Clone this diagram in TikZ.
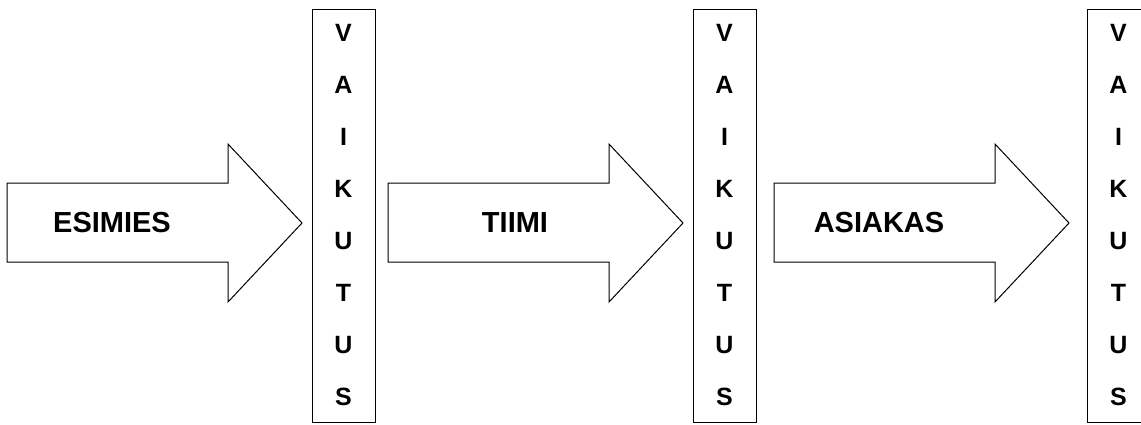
\documentclass[tikz,border=0pt]{standalone}
\usepackage{fontspec}
\setmainfont{Liberation Sans}
\usetikzlibrary{positioning}
\tikzset{
  flow/.style={draw=black,line width=1pt,fill=white,line join=miter},
  vbox/.style={draw=black,line width=1pt,minimum width=63pt,minimum height=413pt,inner sep=0pt},
  flbl/.style={font=\fontsize{29}{32}\selectfont\bfseries,inner sep=0pt},
  vlbl/.style={font=\fontsize{25}{28}\selectfont\bfseries,inner sep=0pt},
}

\begin{document}
\begin{tikzpicture}[x=1pt,y=-1pt]
  \useasboundingbox (0,0) rectangle (1141,424);

  % block arrows
  \foreach \x in {7,388,774}{
    \draw[flow] (\x,183) -- (\x+221,183) -- (\x+221,144) -- (\x+295,223)
      -- (\x+221,302) -- (\x+221,262) -- (\x,262) -- cycle;
  }
  \node[flbl] (esimies) at (112,223) {ESIMIES};
  \node[flbl] (tiimi) at (515,223) {TIIMI};
  \node[flbl] (asiakas) at (879,223) {ASIAKAS};

  % vaikutus columns
  \foreach \cx [count=\k] in {343.5,724.5,1118.5}{
    \node[vbox] (vk\k) at (\cx,215.5) {};
    \foreach \ch [count=\i] in {V,A,I,K,U,T,U,S}
      \node[vlbl] (vk\k-\i) at (\cx,33+52*\i-52) {\ch};
  }
\end{tikzpicture}
\end{document}
